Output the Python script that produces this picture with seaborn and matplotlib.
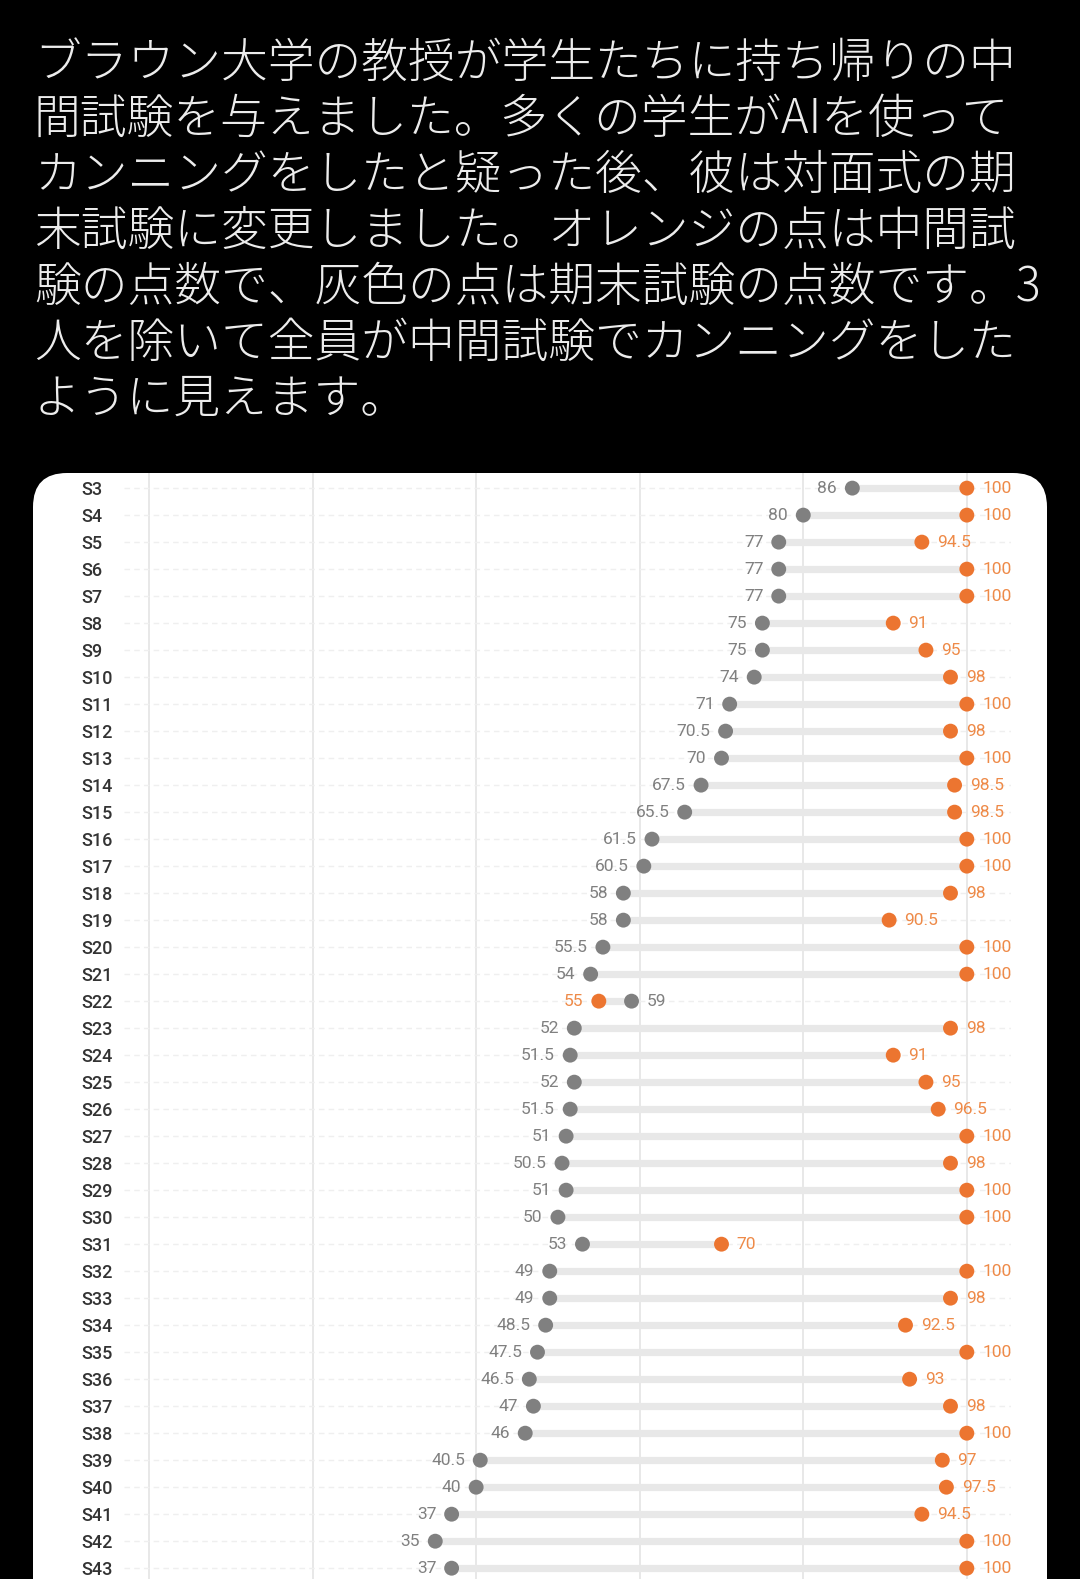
import pandas as pd
import seaborn as sns
import matplotlib.pyplot as plt
from matplotlib.patches import FancyBboxPatch

# Students from top to bottom
students = ["S%d" % i for i in range(3, 44)]

# Final exam (in person, gray) and midterm (take-home, orange) scores
final_scores = [86, 80, 77, 77, 77, 75, 75, 74, 71, 70.5, 70, 67.5, 65.5, 61.5,
                60.5, 58, 58, 55.5, 54, 59, 52, 51.5, 52, 51.5, 51, 50.5, 51, 50,
                53, 49, 49, 48.5, 47.5, 46.5, 47, 46, 40.5, 40, 37, 35, 37]
midterm_scores = [100, 100, 94.5, 100, 100, 91, 95, 98, 100, 98, 100, 98.5, 98.5,
                  100, 100, 98, 90.5, 100, 100, 55, 98, 91, 95, 96.5, 100, 98, 100,
                  100, 70, 100, 98, 92.5, 100, 93, 98, 100, 97, 97.5, 94.5, 100, 100]

header_lines = [
    "ブラウン大学の教授が学生たちに持ち帰りの中",
    "間試験を与えました。多くの学生がAIを使って",
    "カンニングをしたと疑った後、彼は対面式の期",
    "末試験に変更しました。オレンジの点は中間試",
    "験の点数で、灰色の点は期末試験の点数です。3",
    "人を除いて全員が中間試験でカンニングをした",
    "ように見えます。",
]

GRAY = "#808080"
ORANGE = "#ec7530"
ORANGE_TXT = "#ee8a48"

df = pd.DataFrame({"student": students, "final": final_scores, "midterm": midterm_scores})
long_df = df.melt(id_vars="student", var_name="exam", value_name="score")

W, H = 1080, 1579
fig = plt.figure(figsize=(W / 100, H / 100), dpi=100)
fig.patch.set_facecolor("black")

# background layer in pixel coordinates
bg = fig.add_axes([0, 0, 1, 1], zorder=0)
bg.set_xlim(0, W)
bg.set_ylim(H, 0)
bg.axis("off")
bg.add_patch(FancyBboxPatch((33, 473), 1014, 1300,
                            boxstyle="round,pad=0,rounding_size=34",
                            facecolor="white", edgecolor="none"))
for k, line in enumerate(header_lines):
    bg.text(34, 63 + 56 * k, line, color="#ececec", fontsize=33.7,
            family=["Noto Sans CJK JP", "DejaVu Sans"], fontweight="light",
            ha="left", va="center")

# chart
ax = fig.add_axes([124 / W, 0, (1011 - 124) / W, 1 - 473 / H], zorder=1)
ax.patch.set_alpha(0)

ax.hlines(df["student"], df[["final", "midterm"]].min(axis=1),
          df[["final", "midterm"]].max(axis=1),
          color="#e8e8e8", linewidth=5.2, zorder=2)
sns.scatterplot(data=long_df, x="score", y="student", hue="exam",
                palette={"final": GRAY, "midterm": ORANGE},
                s=115, linewidth=0, legend=False, zorder=3, ax=ax)

for i, row in df.iterrows():
    pairs = [(row["final"], GRAY), (row["midterm"], ORANGE_TXT)]
    pairs.sort(key=lambda p: p[0])
    (lo, lo_c), (hi, hi_c) = pairs
    ax.annotate("{:g}".format(lo), (lo, i), xytext=(-11, 0), textcoords="offset points",
                ha="right", va="center", color=lo_c, fontsize=12.5, family="Roboto")
    ax.annotate("{:g}".format(hi), (hi, i), xytext=(11, 0), textcoords="offset points",
                ha="left", va="center", color=hi_c, fontsize=12.5, family="Roboto")

ax.set_xlim(-3.06, 105.4)
ax.set_ylim(40.4, -0.56)
ax.set_xticks([0, 20, 40, 60, 80, 100])
ax.set_xticklabels([])
ax.tick_params(axis="x", length=0)
ax.tick_params(axis="y", length=0, pad=31, labelsize=13, labelcolor="#333333")
for lab in ax.get_yticklabels():
    lab.set_ha("left")
    lab.set_family("Roboto")
    lab.set_fontweight("medium")
ax.set_xlabel("")
ax.set_ylabel("")
ax.grid(axis="x", color="#e6e6e6", linewidth=1.3, zorder=0)
ax.grid(axis="y", color="#efefef", linewidth=1, linestyle=(0, (4, 3)), zorder=0)
ax.set_axisbelow(True)
for sp in ax.spines.values():
    sp.set_visible(False)

fig.savefig("out.png", dpi=100, facecolor=fig.get_facecolor())
